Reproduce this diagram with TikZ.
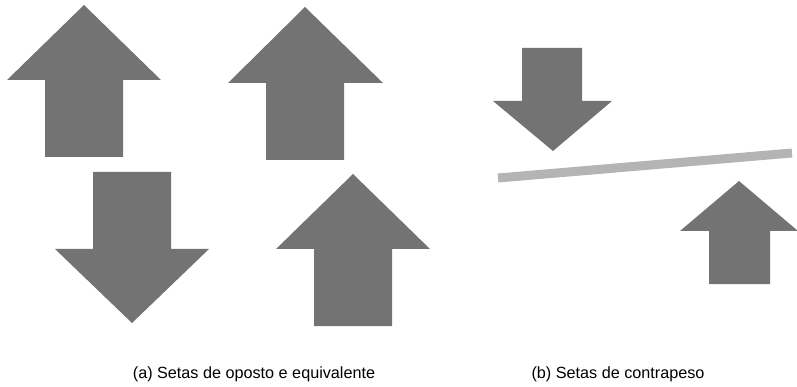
\documentclass[tikz,border=0pt]{standalone}
\usepackage{fontspec}
\setmainfont{Liberation Sans}
\definecolor{arrowgray}{RGB}{115,115,115}
\definecolor{bargray}{RGB}{180,180,180}
\begin{document}
\begin{tikzpicture}[x=1pt,y=-1pt,
  arrowshape/.style={fill=arrowgray,draw=none},
  beam/.style={draw=bargray,line width=9pt,line cap=butt},
  caption/.style={font=\fontsize{16.2}{19}\selectfont,inner sep=0pt,anchor=base,text=black}]
\useasboundingbox (0,0) rectangle (797,387);
% (a) arrows
\fill[arrowshape] (84,5) -- (161,80) -- (123,80) -- (123,157) -- (45,157) -- (45,80) -- (7,80) -- cycle;
\fill[arrowshape] (305,7) -- (383,83) -- (344,83) -- (344,160) -- (266,160) -- (266,83) -- (228,83) -- cycle;
\fill[arrowshape] (93,172) -- (171,172) -- (171,249) -- (209,249) -- (132,323) -- (55,249) -- (93,249) -- cycle;
\fill[arrowshape] (353,174) -- (430,249) -- (392,249) -- (392,326) -- (314,326) -- (314,249) -- (276,249) -- cycle;
% (b) arrows and beam
\fill[arrowshape] (522,48) -- (582,48) -- (582,101) -- (612,101) -- (553,151) -- (493,101) -- (522,101) -- cycle;
\coordinate (beamL) at (498,178);
\coordinate (beamR) at (792,153);
\draw[beam] (beamL) -- (beamR);
\fill[arrowshape] (739,181) -- (798,231) -- (770,231) -- (770,284) -- (709,284) -- (709,231) -- (680,231) -- cycle;
% captions
\node[caption] (capa) at (254,378) {(a) Setas de oposto e equivalente};
\node[caption] (capb) at (618,378) {(b) Setas de contrapeso};
\end{tikzpicture}
\end{document}
